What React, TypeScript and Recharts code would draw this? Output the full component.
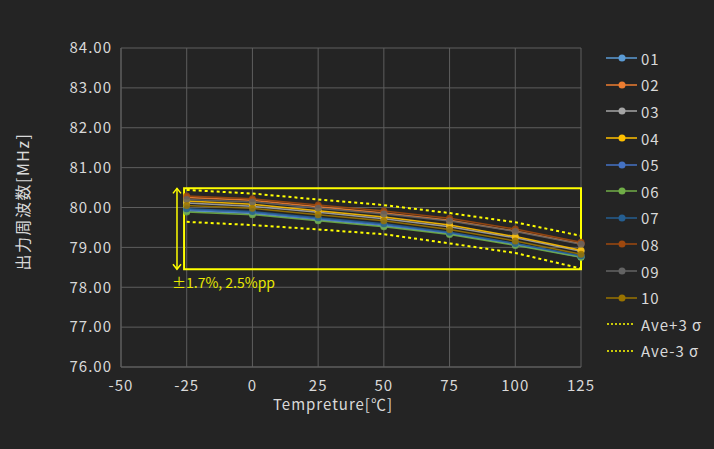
import React from 'react';
import {
  LineChart, Line, XAxis, YAxis, CartesianGrid, ReferenceArea, ReferenceLine, Label,
} from 'recharts';

const temps = [-25, 0, 25, 50, 75, 100, 125];

const s01 = [79.92, 79.85, 79.69, 79.54, 79.34, 79.07, 78.76];
const s02 = [80.25, 80.18, 80.02, 79.86, 79.68, 79.41, 79.09];
const s03 = [80.11, 80.03, 79.88, 79.72, 79.52, 79.24, 78.90];
const s04 = [80.16, 80.08, 79.92, 79.76, 79.56, 79.27, 78.93];
const s05 = [79.95, 79.88, 79.72, 79.57, 79.36, 79.09, 78.78];
const s06 = [79.89, 79.82, 79.67, 79.52, 79.32, 79.05, 78.75];
const s07 = [79.97, 79.90, 79.74, 79.59, 79.38, 79.10, 78.79];
const s08 = [80.29, 80.22, 80.06, 79.91, 79.73, 79.46, 79.13];
const s09 = [80.20, 80.14, 79.98, 79.84, 79.66, 79.40, 79.08];
const s10 = [80.05, 79.98, 79.82, 79.67, 79.45, 79.16, 78.83];
const avePlus3 = [80.44, 80.35, 80.20, 80.06, 79.86, 79.63, 79.29];
const aveMinus3 = [79.64, 79.56, 79.45, 79.33, 79.10, 78.86, 78.47];

const seriesNames = ['01', '02', '03', '04', '05', '06', '07', '08', '09', '10'];
const seriesValues = [s01, s02, s03, s04, s05, s06, s07, s08, s09, s10];
const colors = ['#5B9BD5', '#ED7D31', '#A5A5A5', '#FFC000', '#4472C4', '#70AD47', '#255E91', '#9E480E', '#636363', '#997300'];

const xTicks = [-50, -25, 0, 25, 50, 75, 100, 125];
const yTicks = [76, 77, 78, 79, 80, 81, 82, 83, 84];

// band annotation (data coords)
const bandX = [-26, 125];
const bandY = [78.45, 80.48];
const arrowX = -28.7;
const bandText = '±1.7%, 2.5%pp';

const data = temps.map((t, i) => {
  const row: Record<string, number> = { t, plus: avePlus3[i], minus: aveMinus3[i] };
  seriesNames.forEach((n, k) => { row[n] = seriesValues[k][i]; });
  return row;
});

const FONT = "'Noto Sans CJK JP', 'Noto Sans', sans-serif";
const TEXT = '#d9d9d9';
const YELLOW = '#ffff00';
const tick = { fontSize: 15, fill: TEXT, fontFamily: FONT, letterSpacing: 1 };

const YLabel = ({ viewBox }: any) => {
  const x = viewBox.x + 22;
  const y = viewBox.y + viewBox.height / 2 - 6;
  return (
    <text x={x} y={y} transform={`rotate(-90, ${x}, ${y})`} textAnchor="middle" dominantBaseline="central"
      fontSize={16} letterSpacing={1.5} fill={TEXT} fontFamily={FONT}>出力周波数[MHz]</text>
  );
};

const XLabel = ({ viewBox }: any) => (
  <text x={viewBox.x + viewBox.width / 2 - 18} y={viewBox.y + 43} textAnchor="middle"
    fontSize={15} letterSpacing={1} fill={TEXT} fontFamily={FONT}>Tempreture[℃]</text>
);

const ArrowShape = (p: any) => {
  const { x1, y1, x2, y2 } = p;
  const top = Math.min(y1, y2);
  const bot = Math.max(y1, y2);
  return (
    <g>
      <line x1={x1} y1={top} x2={x2} y2={bot} stroke={YELLOW} strokeWidth={1.5} />
      <polyline points={`${x1 - 4},${top + 5} ${x1},${top} ${x1 + 4},${top + 5}`} fill="none" stroke={YELLOW} strokeWidth={1.5} />
      <polyline points={`${x1 - 4},${bot - 5} ${x1},${bot} ${x1 + 4},${bot - 5}`} fill="none" stroke={YELLOW} strokeWidth={1.5} />
      <text x={x1 - 5} y={bot + 19} fontSize={14} fill="#e8e800" fontFamily={FONT}>{bandText}</text>
    </g>
  );
};

const legendItems = [
  ...seriesNames.map((n, i) => ({ name: n, color: colors[i], dotted: false })),
  { name: 'Ave+3 σ', color: YELLOW, dotted: true },
  { name: 'Ave-3 σ', color: YELLOW, dotted: true },
];

const ChartLegend = () => (
  <div style={{ position: 'absolute', left: 606, top: 45, fontFamily: FONT, fontSize: 15, letterSpacing: 1, color: TEXT }}>
    {legendItems.map((it) => (
      <div key={it.name} style={{ height: 26.6, display: 'flex', alignItems: 'center' }}>
        <svg width={35} height={10} style={{ display: 'block' }}>
          {it.dotted ? (
            <line x1={1} y1={5} x2={28} y2={5} stroke={it.color} strokeWidth={1.5} strokeDasharray="2 2" />
          ) : (
            <>
              <line x1={0} y1={5} x2={31} y2={5} stroke={it.color} strokeWidth={1.5} />
              <circle cx={16} cy={5} r={3.5} fill={it.color} />
            </>
          )}
        </svg>
        <span style={{ lineHeight: 1 }}>{it.name}</span>
      </div>
    ))}
  </div>
);

export default function App() {
  return (
    <div style={{ position: 'absolute', left: 0, top: 0, width: 714, height: 449, background: '#242424' }}>
      <LineChart width={714} height={449} data={data} margin={{ top: 48, right: 133, bottom: 32, left: 0 }}>
        <CartesianGrid stroke="#5e5e5e" strokeWidth={1} />
        <XAxis dataKey="t" type="number" domain={[-50, 125]} ticks={xTicks} interval={0}
          tick={tick} tickSize={0} tickMargin={13} axisLine={{ stroke: '#5e5e5e' }} height={50}
          label={<Label content={XLabel} />} />
        <YAxis type="number" domain={[76, 84]} ticks={yTicks} interval={0} width={121}
          tick={tick} tickSize={0} tickMargin={9} axisLine={{ stroke: '#5e5e5e' }}
          tickFormatter={(v: number) => v.toFixed(2)}
          label={<Label content={YLabel} />} />
        {seriesNames.map((n, i) => (
          <Line key={n} dataKey={n} stroke={colors[i]} strokeWidth={1.5} strokeOpacity={0.9}
            dot={{ r: 3.5, fill: colors[i], stroke: colors[i], strokeWidth: 0, fillOpacity: 0.85 }}
            isAnimationActive={false} />
        ))}
        <Line dataKey="plus" stroke={YELLOW} strokeWidth={2} strokeDasharray="3 3" dot={false} isAnimationActive={false} />
        <Line dataKey="minus" stroke={YELLOW} strokeWidth={2} strokeDasharray="3 3" dot={false} isAnimationActive={false} />
        <ReferenceArea x1={bandX[0]} x2={bandX[1]} y1={bandY[0]} y2={bandY[1]} fill="none" fillOpacity={0}
          stroke={YELLOW} strokeWidth={2} />
        <ReferenceLine segment={[{ x: arrowX, y: bandY[1] }, { x: arrowX, y: bandY[0] }]} shape={ArrowShape} />
      </LineChart>
      <ChartLegend />
    </div>
  );
}
